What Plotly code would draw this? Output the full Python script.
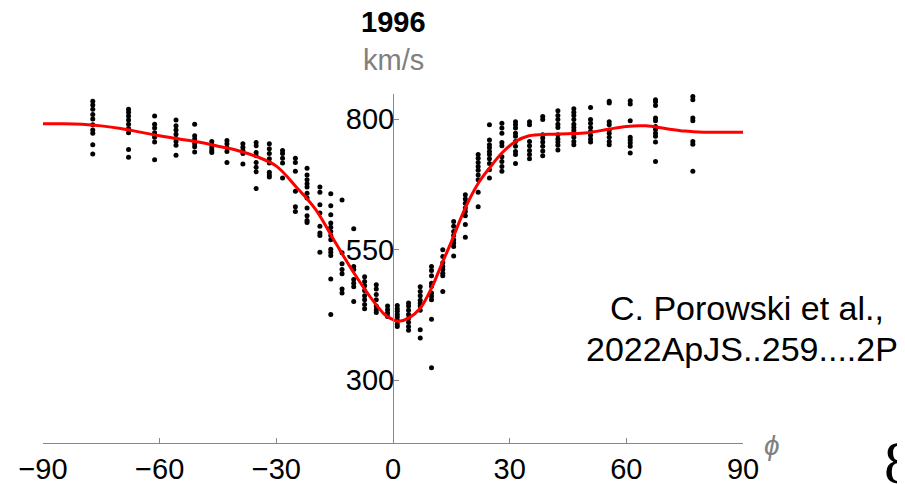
import plotly.graph_objects as go

# ---- data ----
obs_phi = [-77.2, -68.0, -61.3, -55.8, -51.0, -46.6, -42.7, -38.6, -35.2, -31.8,
           -28.4, -25.1, -22.1, -18.8, -16.0, -13.1, -10.1, -7.3, -4.3, -1.4,
           1.1, 4.0, 7.0, 9.9, 12.8, 15.6, 18.6, 21.9, 24.8, 28.0,
           31.5, 35.1, 38.5, 42.4, 46.5, 50.8, 55.6, 61.0, 67.5, 77.1]
obs_v = [
    [834, 827, 819, 809, 800, 789, 779, 773, 751, 733],
    [819, 813, 806, 798, 790, 782, 774, 742, 727],
    [806, 790, 783, 774, 765, 756, 722],
    [798, 787, 779, 771, 763, 757, 750, 731],
    [790, 768, 762, 753, 747, 737],
    [757, 751, 745, 740, 736],
    [759, 753, 745, 738, 717],
    [753, 746, 740, 734, 714],
    [755, 749, 736, 730, 717, 708, 699, 667],
    [753, 743, 734, 724, 716, 698, 693, 689],
    [740, 734, 725, 716, 687],
    [725, 717, 700, 662, 632, 623],
    [706, 693, 684, 676, 670, 658, 649, 630, 615, 606, 602],
    [670, 660, 636, 620, 595, 582, 577, 545],
    [657, 634, 617, 601, 593, 585, 577, 569, 551, 545, 539, 494, 426],
    [645, 544, 523, 512, 504, 475, 467],
    [590, 518, 512, 493, 486, 479, 451],
    [498, 489, 481, 472, 462, 454, 445, 437],
    [483, 475, 464, 454, 442, 435, 430],
    [442, 435, 429, 422],
    [443, 437, 432, 426, 421, 415, 408, 403],
    [448, 442, 434, 426, 419, 411, 403, 396],
    [479, 470, 462, 453, 447, 442, 434, 397, 381],
    [518, 510, 500, 486, 480, 467, 461, 454, 417, 324],
    [550, 537, 525, 518, 512, 505, 500, 470],
    [604, 595, 585, 577, 569, 563, 556, 538],
    [655, 647, 639, 630, 623, 615, 598, 574],
    [732, 725, 717, 709, 702, 693, 684, 660, 632],
    [789, 760, 751, 745, 738, 732, 724, 715, 703, 687],
    [792, 783, 773, 755, 749, 728, 719, 709, 700],
    [795, 789, 783, 773, 767, 757, 748, 738, 732, 715],
    [795, 789, 757, 749, 740, 732, 724],
    [805, 799, 770, 764, 756, 748, 739, 730],
    [816, 807, 799, 790, 784, 770, 762, 756, 750, 741],
    [820, 813, 807, 799, 790, 784, 778, 771, 765, 757, 751],
    [822, 799, 792, 784, 776, 769, 762, 756],
    [834, 831, 795, 789, 779, 773, 765, 757, 751],
    [835, 829, 797, 765, 760, 754, 748, 735],
    [837, 833, 826, 802, 797, 786, 780, 773, 767, 756, 719],
    [843, 837, 802, 797, 757, 752, 700],
]

fit_phi = [-90, -85, -80, -75, -70, -65, -60, -55, -50, -45, -40, -35, -30, -25,
           -20, -15, -10, -5, -2, 0, 1.5, 4, 7, 10, 12.5, 15, 18.6, 22, 25, 28,
           31.5, 35, 40, 45, 50, 55, 60, 65, 70, 75, 80, 85, 90]
fit_v = [791, 791, 790, 787, 782, 775, 768, 762, 756, 748, 740, 728, 710, 671,
         628, 566, 505, 451, 425, 416, 413, 419, 438, 478, 522, 565, 630, 678, 708, 735,
         757, 768, 771, 772, 774, 780, 786, 787, 782, 777, 775, 775, 775]

x_ticks = [-90, -60, -30, 0, 30, 60, 90]
y_ticks = [300, 550, 800]

xs, ys = [], []
for p, vals in zip(obs_phi, obs_v):
    for v in vals:
        xs.append(p)
        ys.append(v)

FONT = "Liberation Sans"
GRAY = "#888888"

fig = go.Figure()
fig.add_trace(go.Scatter(x=xs, y=ys, mode="markers",
                         marker=dict(color="black", size=5),
                         cliponaxis=False, hoverinfo="skip"))
fig.add_trace(go.Scatter(x=fit_phi, y=fit_v, mode="lines", line_shape="spline",
                         line=dict(color="#ff0000", width=3),
                         cliponaxis=False, hoverinfo="skip"))

# page body has an 8px default margin, so the figure is 8px smaller and offset
fig.update_layout(
    width=897, height=476,
    margin=dict(l=35, r=162, t=86, b=41, autoexpand=False),
    paper_bgcolor="white", plot_bgcolor="white",
    showlegend=False,
    font=dict(family=FONT, color="black"),
    xaxis=dict(range=[-90, 90], tickvals=x_ticks,
               ticktext=[("\u2212" + str(-t)) if t < 0 else str(t) for t in x_ticks],
               showline=True, linecolor=GRAY, linewidth=1,
               ticks="inside", ticklen=5, tickcolor=GRAY, automargin=False,
               tickfont=dict(size=29, family=FONT, color="black"),
               showgrid=False, zeroline=False),
    yaxis=dict(range=[180, 848], tickvals=y_ticks,
               anchor="free", position=0.5, side="left", automargin=False,
               showline=True, linecolor=GRAY, linewidth=1,
               ticks="inside", ticklen=5, tickcolor=GRAY, ticklabelstandoff=-7,
               tickfont=dict(size=29, family=FONT, color="black"),
               showgrid=False, zeroline=False),
    annotations=[
        dict(text="<b>1996</b>", xref="paper", yref="paper", x=0.5, y=1.205,
             xanchor="center", yanchor="middle", showarrow=False,
             font=dict(size=29, family=FONT, color="black")),
        dict(text="km/s", xref="paper", yref="paper", x=0.5, y=1.0968,
             xanchor="center", yanchor="middle", showarrow=False,
             font=dict(size=29, family=FONT, color="#808080")),
        dict(text="<i>\u03d5</i>", xref="paper", yref="paper", x=1.041, y=-0.0077,
             xanchor="center", yanchor="middle", showarrow=False,
             font=dict(size=28, family=FONT, color="#808080")),
        dict(text="C. Porowski et al.,", xref="paper", yref="paper", x=1.0053, y=0.3877,
             xanchor="center", yanchor="middle", showarrow=False,
             font=dict(size=34, family=FONT, color="black")),
        dict(text="2022ApJS..259....2P", xref="paper", yref="paper", x=0.9989, y=0.268,
             xanchor="center", yanchor="middle", showarrow=False,
             font=dict(size=34, family=FONT, color="black")),
        dict(text="8", xref="paper", yref="paper", x=1.2239, y=-0.0536,
             xanchor="center", yanchor="middle", showarrow=False,
             font=dict(size=62, family="Liberation Serif", color="black")),
    ],
)

fig.write_html("out.html")
